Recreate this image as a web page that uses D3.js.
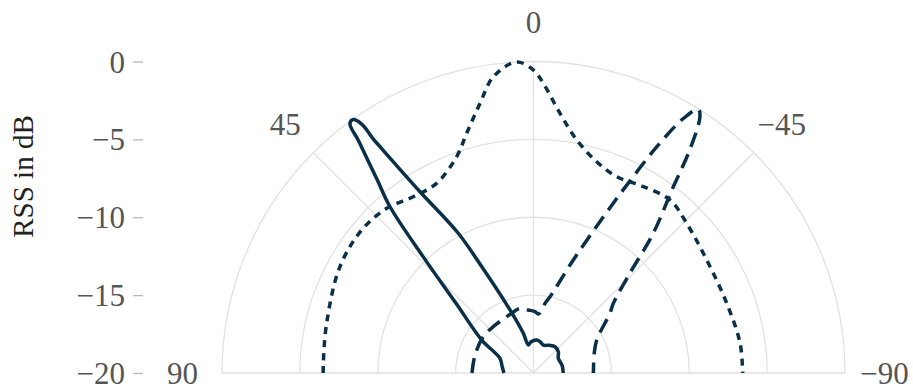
<!DOCTYPE html>
<html>
<head>
<meta charset="utf-8">
<script src="https://cdn.jsdelivr.net/npm/d3@7"></script>
<style>
  html, body { margin: 0; padding: 0; background: #fff; }
  svg { display: block; }
</style>
</head>
<body>
<script>
// ---- data (angle in degrees, positive = left of 0; value in dB) ----
const radialTicks = [-20, -15, -10, -5, 0];
const angularTicks = [90, 45, 0, -45, -90];

const solidAngles = [90, 77.5, 66.3, 57.5, 48.05, 43.5, 40.8, 38.98, 37.9, 36.97, 36.4, 35.5, 34.6, 34.4, 34.15, 32.05, 28.3, 25.98, 20.46, 14.4, 10.5, 5, -5.5, -12, -19.3, -30, -39.3, -49.3, -59.3, -75, -90];
const solidValues = [-18.1, -17.93, -17.65, -16.06, -13.31, -9.7, -5.9, -4.06, -2.67, -1.28, -0.14, -0.02, -0.6, -1.8, -2.44, -6.27, -9.81, -12.4, -15.68, -17.37, -18.17, -18.0, -17.87, -17.95, -18.1, -17.95, -17.82, -17.9, -18.15, -18.1, -18.09];

const dashedAngles = [90, 73, 54, 41, 20, 11.8, 4.7, -1.4, -4.7, -9.4, -12.2, -19.4, -23.7, -26.4, -28.6, -30.5, -32, -33, -35, -36.9, -40.6, -44, -48.9, -52, -62.4, -72, -88, -90];
const dashedValues = [-16.05, -16.07, -16.02, -16.06, -15.92, -15.76, -15.94, -16.06, -16.2, -15.47, -14.99, -12.31, -9.39, -6.53, -3.45, -1.03, -0.03, -0.38, -2.51, -5.05, -8.19, -11.09, -13.2, -13.77, -15.42, -15.9, -16.15, -16.16];

const dottedAngles = [90, 87.4, 76.5, 61.2, 50.2, 41.7, 34.3, 27, 19.55, 15.57, 11.2, 7.7, 3.1, 0, -1.94, -5.83, -10.5, -16.65, -23, -30.5, -38.3, -45.66, -56.9, -70.2, -81.8, -90];
const dottedValues = [-6.5, -6.49, -6.34, -5.82, -5.65, -5.84, -6.3, -6.32, -5.26, -4.02, -2.34, -0.8, 0.0, -0.55, -1.39, -3.24, -4.78, -5.84, -6.31, -6.11, -5.85, -6.25, -6.72, -6.81, -6.6, -6.57];

// ---- layout ----
const W = 913, H = 388;
const cx = 533.5, cy = 373, R = 311.5;
const lineColor = "#0a3049";
const gridColor = "#e2e2e2";
const textColor = "#555";
const font = "'Liberation Serif', 'Times New Roman', serif";

const svg = d3.select("body").append("svg").attr("width", W).attr("height", H);

const r = d3.scaleLinear().domain([-20, 0]).range([0, R]);
const toRad = d => -d * Math.PI / 180;

const g = svg.append("g").attr("transform", `translate(${cx},${cy})`);

// grid circles (upper half)
radialTicks.filter(t => t > -20).forEach(t => {
  const p = d3.path();
  p.arc(0, 0, r(t), Math.PI, 2 * Math.PI);
  g.append("path").attr("d", p.toString())
    .attr("fill", "none").attr("stroke", gridColor).attr("stroke-width", 1.3);
});
// spokes
angularTicks.forEach(a => {
  const ang = toRad(a);
  g.append("line")
    .attr("x1", 0).attr("y1", 0)
    .attr("x2", R * Math.sin(ang)).attr("y2", -R * Math.cos(ang))
    .attr("stroke", gridColor).attr("stroke-width", 1.3);
});
// angular labels
angularTicks.forEach(a => {
  const ang = toRad(a);
  const lr = R + 39.5;
  g.append("text")
    .attr("x", lr * Math.sin(ang))
    .attr("y", -lr * Math.cos(ang))
    .attr("dy", "0.34em")
    .attr("text-anchor", "middle")
    .attr("font-family", font).attr("font-size", 31)
    .attr("fill", textColor)
    .text(d3.format("d")(a));
});

// series
const radial = d3.lineRadial()
  .angle(d => toRad(d[0]))
  .radius(d => r(d[1]))
  .curve(d3.curveCatmullRom.alpha(0.5));

const series = [
  { a: dottedAngles, v: dottedValues, dash: "7,6" },
  { a: dashedAngles, v: dashedValues, dash: "15,8" },
  { a: solidAngles, v: solidValues, dash: null }
];
series.forEach(s => {
  const pts = s.a.map((ang, i) => [ang, s.v[i]]);
  g.append("path").datum(pts)
    .attr("d", radial)
    .attr("fill", "none")
    .attr("stroke", lineColor)
    .attr("stroke-width", 3.5)
    .attr("stroke-linejoin", "round")
    .attr("stroke-dasharray", s.dash);
});

// radial axis on the left
const y = d3.scaleLinear().domain([-20, 0]).range([cy, cy - R]);
const axis = svg.append("g").attr("transform", "translate(143,0)")
  .call(d3.axisLeft(y).tickValues(radialTicks).tickSize(10).tickPadding(8));
axis.select(".domain").remove();
axis.selectAll(".tick line").attr("stroke", "#bbb").attr("stroke-width", 1.3);
axis.selectAll(".tick text")
  .attr("font-family", font).attr("font-size", 31)
  .attr("fill", textColor).attr("dy", "0.34em");

svg.append("text")
  .attr("transform", "translate(33,176.5) rotate(-90)")
  .attr("text-anchor", "middle")
  .attr("font-family", font).attr("font-size", 29)
  .attr("fill", "#222")
  .text("RSS in dB");
</script>
</body>
</html>
